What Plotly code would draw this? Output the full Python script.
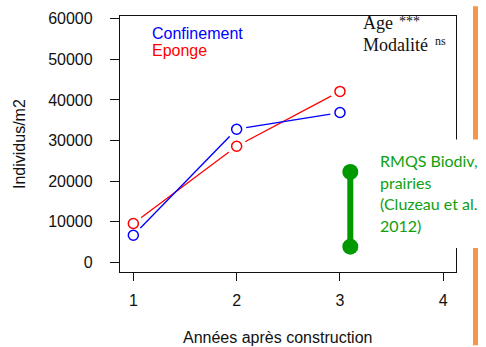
import plotly.graph_objects as go

# ---- data ----
years = [1, 2, 3]
confinement = [6700, 32800, 36900]
eponge = [9600, 28600, 42100]
rmqs_x = [3.1, 3.1]
rmqs_range = [3900, 22300]
x_ticks = [1, 2, 3, 4]
y_ticks = [0, 10000, 20000, 30000, 40000, 50000, 60000]

W, H = 486, 347
L, R, T, B = 120, 30, 10, 75
PW = W - L - R
PH = H - T - B


def px(x):
    return (x - L) / PW


def py(y):
    return (H - B - y) / PH


SANS = "Liberation Sans, Arial, sans-serif"
SERIF = "Liberation Serif, Times New Roman, serif"
CAL = "Lato, Open Sans, sans-serif"
GREEN = "#009a00"
GREEN_TXT = "#10a010"
ORANGE = "#f79646"

fig = go.Figure()

# R "type = b" style: line, white gap disc, then open circle
fig.add_trace(go.Scatter(x=years, y=eponge, mode="lines",
                         line=dict(color="#ff0000", width=1.3), hoverinfo="skip"))
fig.add_trace(go.Scatter(x=years, y=eponge, mode="markers", hoverinfo="skip",
                         marker=dict(symbol="circle", size=20, color="white", line=dict(width=0))))
fig.add_trace(go.Scatter(x=years, y=confinement, mode="lines",
                         line=dict(color="#0000ff", width=1.3), hoverinfo="skip"))
fig.add_trace(go.Scatter(x=years, y=confinement, mode="markers", hoverinfo="skip",
                         marker=dict(symbol="circle", size=20, color="white", line=dict(width=0))))
fig.add_trace(go.Scatter(x=years, y=eponge, mode="markers", name="Eponge",
                         marker=dict(symbol="circle-open", size=10, color="#ff0000",
                                     line=dict(width=1.5, color="#ff0000"))))
fig.add_trace(go.Scatter(x=years, y=confinement, mode="markers", name="Confinement",
                         marker=dict(symbol="circle-open", size=10, color="#0000ff",
                                     line=dict(width=1.5, color="#0000ff"))))

# RMQS reference range
fig.add_trace(go.Scatter(x=rmqs_x, y=rmqs_range, mode="lines+markers",
                         line=dict(color=GREEN, width=6),
                         marker=dict(symbol="circle", size=16, color=GREEN)))

axis_common = dict(
    showgrid=False, zeroline=False, showline=True, mirror=True,
    linecolor="#111111", linewidth=1.3,
    ticks="outside", tickcolor="#111111", tickwidth=1.3,
    tickfont=dict(family=SANS, size=16, color="#111111"),
)

fig.update_layout(
    width=W, height=H,
    margin=dict(l=L, r=R, t=T, b=B),
    paper_bgcolor="white", plot_bgcolor="white",
    showlegend=False,
    xaxis=dict(range=[0.871, 4.123], tickvals=x_ticks, ticklen=8,
               ticklabelstandoff=6, **axis_common),
    yaxis=dict(range=[-2330, 60650], tickvals=y_ticks, tickformat="d", ticklen=9,
               ticklabelstandoff=14, **axis_common),
)

shapes = [
    dict(type="rect", xref="paper", yref="paper",
         x0=px(473), x1=px(478), y0=py(347), y1=py(0),
         fillcolor=ORANGE, line=dict(width=0), layer="above"),
    dict(type="rect", xref="paper", yref="paper",
         x0=px(371), x1=px(487), y0=py(247.5), y1=py(136.5),
         fillcolor="white", line=dict(width=0), layer="above"),
]
fig.update_layout(shapes=shapes)

ann = []


def add_text(text, x, y, size, color, family, xanchor="left", angle=0):
    ann.append(dict(text=text, xref="paper", yref="paper", x=px(x), y=py(y),
                    xanchor=xanchor, yanchor="middle", showarrow=False,
                    textangle=angle, font=dict(family=family, size=size, color=color)))


add_text("Années après construction", 277, 339, 16, "#111111", SANS, xanchor="center")
add_text("Individus/m2", 19, 141, 16, "#111111", SANS, xanchor="center", angle=-90)
add_text("Confinement", 149.5, 27.5, 16, "#0000ff", SANS)
add_text("Eponge", 149.5, 45.5, 16, "#ff0000", SANS)
add_text("Age", 360.5, 17, 18, "#111111", SERIF)
add_text("***", 396.5, 16, 14, "#111111", SERIF)
add_text("Modalité", 360.5, 40, 18, "#111111", SERIF)
add_text("ns", 432.5, 36, 12, "#111111", SERIF)
for i, line in enumerate(["RMQS Biodiv,", "prairies", "(Cluzeau et al.", "2012)"]):
    add_text(line, 377.5, 158 + 22 * i, 16, GREEN_TXT, CAL)

fig.update_layout(annotations=ann)

fig.write_html("out.html")
